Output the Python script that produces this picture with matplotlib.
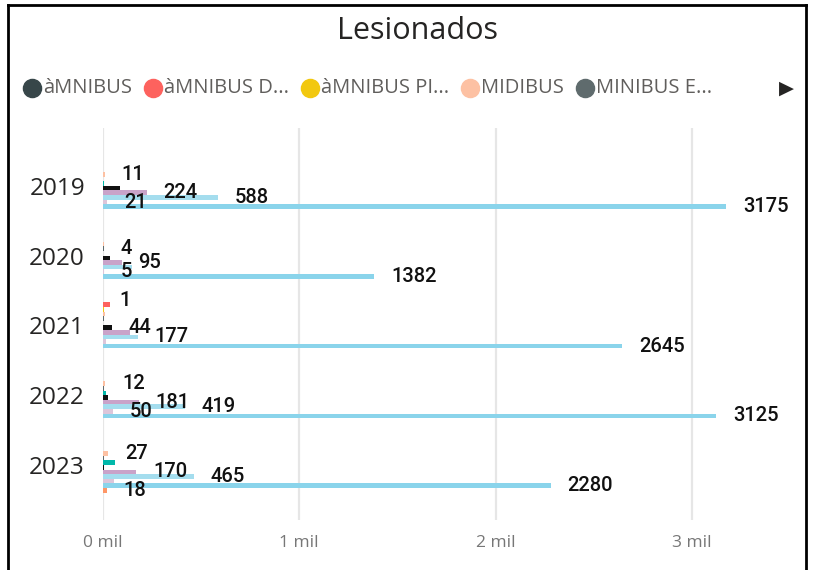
import numpy as np
import matplotlib
matplotlib.use('Agg')
import matplotlib.pyplot as plt

# Lesionados por año y tipo de vehículo
years = ['2019', '2020', '2021', '2022', '2023']

series_names = ['àMNIBUS', 'àMNIBUS D...', 'àMNIBUS PI...', 'MIDIBUS', 'MINIBUS E...',
                'MICROBUS', 'CAMIONETA', 'FURGONETA', 'TAXI', 'REMOLQUE',
                'AUTOBUS', 'OTROS']
series_colors = ['#374649', '#FD625E', '#F2C80F', '#FDC1A3', '#5F6B6D',
                 '#01B8AA', '#111111', '#C9A3C9', '#A4DDEE', '#DCC6DA',
                 '#8AD4EB', '#FE9666']

omnibus = [0, 0, 1, 0, 0]
omnibus_d = [0, 0, 34, 0, 0]
omnibus_pi = [0, 0, 7, 0, 0]
midibus = [11, 3, 10, 12, 27]
minibus_e = [0, 4, 3, 4, 3]
microbus = [5, 0, 0, 13, 60]
camioneta = [87, 36, 44, 24, 3]
furgoneta = [224, 95, 138, 181, 170]
taxi = [588, 146, 177, 419, 465]
remolque = [21, 5, 15, 50, 55]
autobus = [3175, 1382, 2645, 3125, 2280]
otros = [0, 0, 0, 0, 18]

values = [omnibus, omnibus_d, omnibus_pi, midibus, minibus_e, microbus,
          camioneta, furgoneta, taxi, remolque, autobus, otros]

# data labels that fit without overlapping (series index per year)
labelled = [[3, 7, 8, 9, 10],
            [4, 7, 9, 10],
            [0, 6, 8, 10],
            [3, 7, 8, 9, 10],
            [3, 7, 8, 10, 11]]

fig = plt.figure(figsize=(8.14, 5.70), dpi=100)
W, H = 814, 570

# plot area in pixels
left, right, top, bottom = 103, 800, 128, 520
ax = fig.add_axes([left / W, 1 - bottom / H, (right - left) / W, (bottom - top) / H])

n = len(values)
slot = 0.066
y = np.arange(len(years))
for i, (vals, col) in enumerate(zip(values, series_colors)):
    off = (i - (n - 1) / 2) * slot
    ax.barh(y + off, vals, height=slot, color=col, zorder=3)

for k, idxs in enumerate(labelled):
    for i in idxs:
        off = (i - (n - 1) / 2) * slot
        v = values[i][k]
        ax.annotate(str(v), xy=(v, k + off), xytext=(12, 0), textcoords='offset points',
                    ha='left', va='center', fontsize=14.5, family='Roboto',
                    fontweight='medium', color='#111111', zorder=5)

ax.set_xlim(0, (right - left) / 0.1963)
ax.set_ylim(len(years) - 1 + 0.79, -0.83)
ax.set_yticks(y)
ax.set_yticklabels(years, family='Open Sans', fontsize=17.5, color='#252423')
ax.set_xticks([0, 1000, 2000, 3000])
ax.set_xticklabels(['0 mil', '1 mil', '2 mil', '3 mil'], family='Open Sans',
                   fontsize=12.5, color='#777777')
ax.tick_params(axis='y', length=0, pad=13)
ax.tick_params(axis='x', length=0, pad=11)
ax.grid(axis='x', color='#E6E6E6', linewidth=1.6, zorder=0)
for s in ax.spines.values():
    s.set_visible(False)

# overlay in pixel coordinates for title, legend and frame
ov = fig.add_axes([0, 0, 1, 1], zorder=10)
ov.set_xlim(0, W)
ov.set_ylim(H, 0)
ov.axis('off')
ov.patch.set_alpha(0)

ov.text(418, 31, 'Lesionados', ha='center', va='center', family='Open Sans',
        fontsize=22, color='#252423')

fig.canvas.draw()
renderer = fig.canvas.get_renderer()
x = 23
for name, col in zip(series_names[:5], series_colors[:5]):
    ov.scatter([x + 9], [88], s=170, color=col, zorder=3)
    t = ov.text(x + 20, 88, name, ha='left', va='center', family='Open Sans',
                fontsize=14.5, color='#605E5C')
    bb = t.get_window_extent(renderer)
    x = x + 20 + bb.width + 12
ov.text(786, 88, '▶', ha='center', va='center', fontsize=14, color='#252423',
        family='DejaVu Sans')

# frame
ov.plot([8, 8], [H + 5, 5], color='black', linewidth=2, solid_capstyle='projecting')
ov.plot([8, 806], [5, 5], color='black', linewidth=2, solid_capstyle='projecting')
ov.plot([806, 806], [5, H + 5], color='black', linewidth=2, solid_capstyle='projecting')

fig.savefig('out.png', dpi=100)
